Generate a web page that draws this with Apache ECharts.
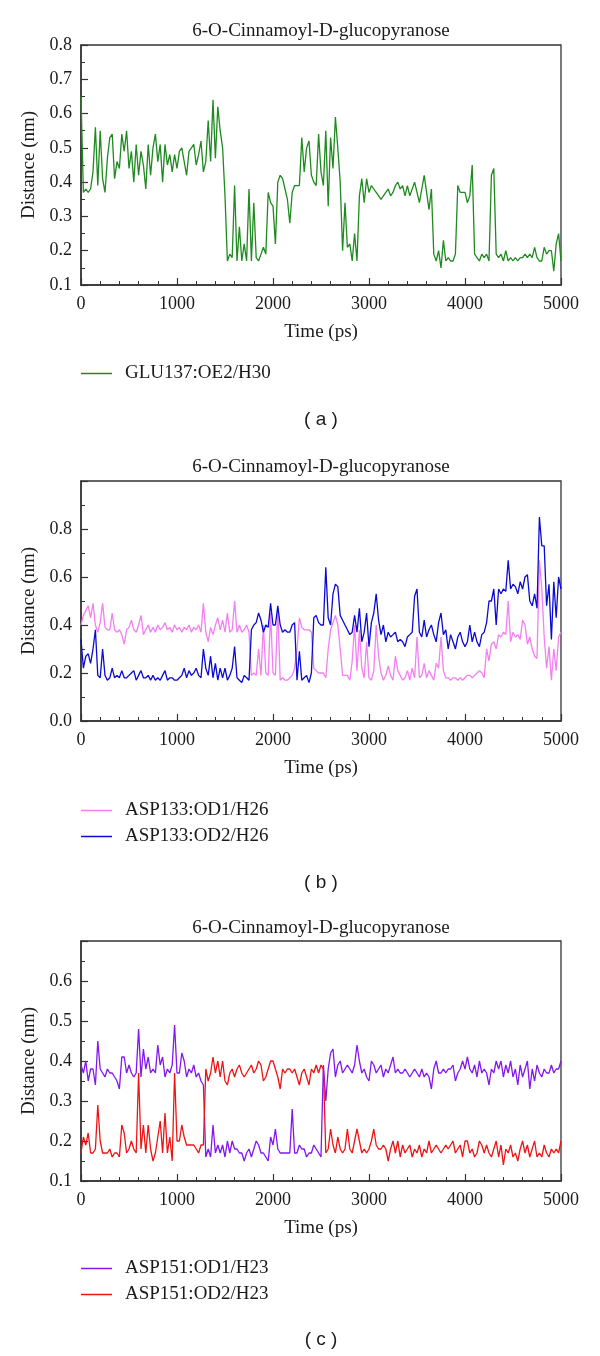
<!DOCTYPE html>
<html>
<head>
<meta charset="utf-8">
<script src="https://cdn.jsdelivr.net/npm/echarts@6/dist/echarts.min.js"></script>
<style>
html,body{margin:0;padding:0;background:#fff;}
#chart{width:600px;height:1356px;}
</style>
</head>
<body>
<div id="chart"></div>
<script>
// ---------------- data ----------------
const chartTitle = '6-O-Cinnamoyl-D-glucopyranose';
const timeStep = 25; // ps between sampled frames (0 ... 5000 ps)
const xTickValues = [0, 1000, 2000, 3000, 4000, 5000];
const panelLabels = ['( a )', '( b )', '( c )'];

const seriesNames = {
  glu137: 'GLU137:OE2/H30',
  asp133od1: 'ASP133:OD1/H26',
  asp133od2: 'ASP133:OD2/H26',
  asp151od1: 'ASP151:OD1/H23',
  asp151od2: 'ASP151:OD2/H23'
};

const glu137 = [
0.65,0.37,0.38,0.37,0.38,0.43,0.56,0.39,0.55,0.41,0.37,0.47,0.53,0.54,0.41,0.46,0.44,0.54,0.49,0.55,
0.44,0.49,0.40,0.51,0.42,0.49,0.45,0.38,0.51,0.42,0.50,0.54,0.46,0.51,0.40,0.51,0.45,0.48,0.43,0.48,
0.44,0.49,0.50,0.46,0.42,0.49,0.50,0.51,0.45,0.48,0.52,0.43,0.46,0.58,0.46,0.64,0.47,0.62,0.55,0.50,
0.36,0.17,0.19,0.18,0.39,0.17,0.27,0.17,0.22,0.17,0.38,0.17,0.34,0.18,0.17,0.19,0.21,0.19,0.37,0.34,
0.33,0.22,0.40,0.42,0.41,0.38,0.35,0.28,0.37,0.39,0.39,0.39,0.53,0.43,0.50,0.52,0.42,0.40,0.39,0.54,
0.43,0.39,0.55,0.33,0.53,0.44,0.59,0.50,0.40,0.20,0.34,0.21,0.22,0.17,0.25,0.17,0.36,0.41,0.34,0.41,
0.37,0.39,0.38,0.37,0.36,0.35,0.36,0.37,0.38,0.36,0.37,0.39,0.40,0.38,0.39,0.36,0.39,0.36,0.38,0.40,
0.37,0.34,0.38,0.42,0.37,0.32,0.38,0.19,0.17,0.20,0.15,0.23,0.17,0.18,0.17,0.17,0.19,0.39,0.37,0.37,
0.37,0.34,0.36,0.45,0.19,0.18,0.17,0.19,0.18,0.19,0.17,0.42,0.44,0.19,0.18,0.19,0.17,0.20,0.17,0.18,
0.17,0.18,0.17,0.18,0.18,0.19,0.18,0.19,0.18,0.21,0.18,0.17,0.17,0.21,0.19,0.20,0.20,0.14,0.22,0.25,
0.17];

const asp133od1 = [
0.40,0.44,0.46,0.48,0.43,0.49,0.40,0.37,0.41,0.49,0.39,0.38,0.38,0.45,0.38,0.37,0.38,0.36,0.32,0.38,
0.39,0.42,0.38,0.37,0.40,0.44,0.36,0.38,0.40,0.37,0.39,0.37,0.40,0.38,0.39,0.41,0.38,0.39,0.37,0.40,
0.38,0.39,0.37,0.39,0.38,0.40,0.37,0.39,0.38,0.40,0.37,0.49,0.37,0.33,0.39,0.36,0.40,0.43,0.38,0.42,
0.37,0.45,0.37,0.38,0.50,0.37,0.40,0.37,0.38,0.40,0.37,0.19,0.20,0.19,0.30,0.19,0.40,0.20,0.19,0.45,
0.20,0.19,0.47,0.17,0.18,0.17,0.17,0.18,0.19,0.22,0.30,0.43,0.39,0.38,0.38,0.38,0.37,0.22,0.21,0.20,
0.20,0.20,0.18,0.30,0.38,0.41,0.44,0.40,0.30,0.19,0.19,0.19,0.17,0.25,0.40,0.21,0.38,0.22,0.18,0.33,
0.18,0.17,0.21,0.40,0.27,0.20,0.17,0.19,0.23,0.19,0.17,0.27,0.21,0.19,0.17,0.18,0.21,0.17,0.22,0.18,
0.35,0.18,0.19,0.24,0.18,0.21,0.19,0.17,0.24,0.22,0.35,0.21,0.18,0.18,0.17,0.18,0.18,0.17,0.18,0.17,
0.18,0.19,0.19,0.18,0.19,0.20,0.21,0.20,0.18,0.30,0.25,0.32,0.33,0.30,0.36,0.35,0.37,0.36,0.50,0.33,
0.37,0.35,0.36,0.34,0.42,0.40,0.32,0.35,0.30,0.27,0.26,0.67,0.55,0.35,0.22,0.31,0.17,0.30,0.21,0.35,
0.37];

const asp133od2 = [
0.34,0.22,0.27,0.28,0.24,0.30,0.38,0.19,0.18,0.30,0.19,0.17,0.18,0.22,0.18,0.19,0.18,0.21,0.18,0.18,
0.19,0.20,0.21,0.17,0.19,0.21,0.18,0.18,0.19,0.17,0.19,0.17,0.18,0.17,0.19,0.21,0.17,0.18,0.18,0.17,
0.17,0.18,0.19,0.22,0.18,0.21,0.19,0.20,0.22,0.19,0.18,0.30,0.22,0.19,0.27,0.18,0.24,0.17,0.22,0.18,
0.22,0.17,0.19,0.22,0.31,0.18,0.17,0.16,0.19,0.18,0.17,0.38,0.40,0.41,0.45,0.42,0.37,0.40,0.39,0.49,
0.40,0.40,0.48,0.40,0.37,0.38,0.37,0.37,0.40,0.41,0.17,0.29,0.17,0.18,0.19,0.16,0.20,0.43,0.44,0.41,
0.40,0.40,0.64,0.43,0.40,0.53,0.57,0.56,0.44,0.42,0.40,0.38,0.36,0.37,0.44,0.37,0.47,0.33,0.37,0.45,
0.31,0.41,0.45,0.53,0.42,0.36,0.40,0.33,0.37,0.35,0.36,0.37,0.33,0.34,0.33,0.31,0.35,0.36,0.37,0.52,
0.55,0.37,0.35,0.42,0.35,0.38,0.40,0.36,0.33,0.41,0.45,0.36,0.38,0.30,0.36,0.33,0.30,0.35,0.37,0.33,
0.31,0.33,0.40,0.33,0.37,0.33,0.31,0.36,0.37,0.41,0.50,0.50,0.55,0.40,0.55,0.53,0.55,0.54,0.67,0.55,
0.57,0.56,0.53,0.58,0.55,0.60,0.61,0.50,0.48,0.53,0.47,0.85,0.73,0.73,0.48,0.57,0.34,0.58,0.43,0.60,
0.55];

const asp151od1 = [
0.39,0.37,0.40,0.35,0.38,0.38,0.34,0.45,0.38,0.37,0.36,0.38,0.37,0.37,0.36,0.35,0.33,0.41,0.41,0.37,
0.39,0.37,0.36,0.37,0.48,0.36,0.43,0.38,0.41,0.37,0.38,0.37,0.44,0.39,0.41,0.36,0.38,0.37,0.39,0.49,
0.37,0.37,0.42,0.40,0.36,0.38,0.37,0.39,0.36,0.37,0.35,0.34,0.16,0.18,0.16,0.24,0.17,0.19,0.17,0.19,
0.16,0.20,0.17,0.20,0.18,0.18,0.17,0.17,0.15,0.17,0.18,0.16,0.18,0.20,0.19,0.17,0.17,0.16,0.15,0.21,
0.19,0.23,0.18,0.17,0.17,0.17,0.17,0.17,0.28,0.17,0.17,0.19,0.18,0.18,0.16,0.17,0.17,0.19,0.18,0.17,
0.16,0.39,0.30,0.38,0.42,0.43,0.36,0.39,0.40,0.37,0.38,0.39,0.38,0.37,0.39,0.44,0.40,0.37,0.38,0.36,
0.35,0.40,0.39,0.37,0.38,0.39,0.36,0.38,0.37,0.39,0.41,0.37,0.38,0.37,0.37,0.38,0.37,0.36,0.37,0.38,
0.37,0.36,0.38,0.36,0.37,0.36,0.33,0.38,0.40,0.37,0.37,0.38,0.37,0.38,0.38,0.39,0.35,0.37,0.38,0.40,
0.38,0.41,0.38,0.37,0.39,0.36,0.40,0.37,0.38,0.37,0.34,0.38,0.37,0.40,0.38,0.40,0.36,0.39,0.37,0.40,
0.36,0.38,0.34,0.39,0.36,0.38,0.40,0.33,0.38,0.35,0.39,0.37,0.36,0.38,0.37,0.37,0.39,0.37,0.38,0.38,
0.40];

const asp151od2 = [
0.17,0.21,0.19,0.22,0.17,0.17,0.18,0.29,0.20,0.17,0.17,0.17,0.18,0.16,0.17,0.17,0.16,0.24,0.22,0.17,
0.18,0.20,0.18,0.17,0.37,0.18,0.24,0.17,0.24,0.18,0.15,0.17,0.21,0.25,0.17,0.27,0.17,0.21,0.15,0.37,
0.20,0.20,0.24,0.21,0.19,0.19,0.19,0.19,0.18,0.17,0.19,0.19,0.38,0.35,0.37,0.41,0.37,0.40,0.36,0.40,
0.35,0.34,0.37,0.38,0.36,0.38,0.39,0.37,0.36,0.37,0.38,0.39,0.37,0.38,0.40,0.39,0.35,0.36,0.38,0.40,
0.40,0.38,0.36,0.33,0.38,0.37,0.38,0.38,0.37,0.38,0.36,0.34,0.37,0.38,0.36,0.34,0.38,0.37,0.39,0.37,
0.39,0.38,0.17,0.18,0.23,0.19,0.17,0.21,0.18,0.17,0.18,0.23,0.18,0.17,0.20,0.23,0.20,0.17,0.18,0.17,
0.18,0.20,0.23,0.19,0.18,0.18,0.19,0.18,0.15,0.18,0.20,0.17,0.20,0.16,0.19,0.17,0.18,0.19,0.16,0.18,
0.17,0.19,0.16,0.18,0.17,0.20,0.17,0.18,0.19,0.18,0.17,0.18,0.19,0.18,0.19,0.20,0.17,0.18,0.19,0.16,
0.20,0.20,0.17,0.18,0.16,0.17,0.20,0.19,0.17,0.19,0.17,0.16,0.18,0.20,0.16,0.19,0.14,0.18,0.17,0.19,
0.16,0.17,0.15,0.18,0.20,0.17,0.19,0.16,0.18,0.20,0.16,0.17,0.16,0.19,0.17,0.16,0.18,0.17,0.18,0.17,
0.20];

// ---------------- chart ----------------
const serif = '"Liberation Serif", "Times New Roman", serif';
const sans = '"Liberation Sans", Arial, sans-serif';
const ink = '#1a1a1a';
const frame = '#333333';

function pairs(values) {
  return values.map((v, i) => [i * timeStep, v]);
}

const panels = [
  { top: 45,  yMin: 0.1, yMax: 0.8, yInt: 0.1, hideTop: false, titleY: 31,  subY: 420,  legendY: 373,
    series: [{ name: seriesNames.glu137, values: glu137, color: '#1f8a1f' }] },
  { top: 481, yMin: 0.0, yMax: 1.0, yInt: 0.2, hideTop: true,  titleY: 467, subY: 883,  legendY: 810,
    series: [{ name: seriesNames.asp133od1, values: asp133od1, color: '#f47ff2' },
             { name: seriesNames.asp133od2, values: asp133od2, color: '#0a0ad2' }] },
  { top: 941, yMin: 0.1, yMax: 0.7, yInt: 0.1, hideTop: true,  titleY: 928, subY: 1340, legendY: 1268,
    series: [{ name: seriesNames.asp151od1, values: asp151od1, color: '#8416f0' },
             { name: seriesNames.asp151od2, values: asp151od2, color: '#ee1414' }] }
];

const grid = [], xAxis = [], yAxis = [], series = [], legend = [], graphic = [];

panels.forEach((p, i) => {
  grid.push({ left: 81, top: p.top, width: 480, height: 240, show: true,
    borderColor: frame, borderWidth: 1.3, backgroundColor: 'transparent' });
  xAxis.push({
    gridIndex: i, type: 'value', min: xTickValues[0], max: xTickValues[xTickValues.length - 1], interval: 1000,
    name: 'Time (ps)', nameLocation: 'middle', nameGap: 38,
    nameTextStyle: { fontFamily: serif, fontSize: 19, color: ink },
    axisLine: { onZero: false, lineStyle: { color: frame, width: 1.5 } },
    axisTick: { inside: true, length: 7, lineStyle: { color: frame, width: 1.2 } },
    minorTick: { show: true, splitNumber: 5, length: 4, lineStyle: { color: frame, width: 1 } },
    axisLabel: { fontFamily: serif, fontSize: 18, color: ink, margin: 10, formatter: (v) => String(Math.round(v)) },
    splitLine: { show: false }, minorSplitLine: { show: false }
  });
  yAxis.push({
    gridIndex: i, type: 'value', min: p.yMin, max: p.yMax, interval: p.yInt,
    name: 'Distance (nm)', nameLocation: 'middle', nameGap: 40, nameRotate: 90,
    nameTextStyle: { fontFamily: serif, fontSize: 19, color: ink },
    axisLine: { onZero: false, lineStyle: { color: frame, width: 1.5 } },
    axisTick: { inside: true, length: 7, lineStyle: { color: frame, width: 1.2 } },
    minorTick: { show: true, splitNumber: 2, length: 4, lineStyle: { color: frame, width: 1 } },
    axisLabel: { fontFamily: serif, fontSize: 18, color: ink, margin: 9,
      formatter: (v) => (p.hideTop && Math.abs(v - p.yMax) < 1e-6) ? '' : v.toFixed(1) },
    splitLine: { show: false }, minorSplitLine: { show: false }
  });
  p.series.forEach(s => {
    series.push({
      name: s.name, type: 'line', xAxisIndex: i, yAxisIndex: i,
      data: pairs(s.values), symbol: 'none', showSymbol: false,
      lineStyle: { color: s.color, width: 1.3 }, itemStyle: { color: s.color },
      animation: false, clip: true
    });
  });
  legend.push({
    orient: 'vertical', left: 81, top: p.legendY - 9, padding: 0,
    icon: 'rect', itemWidth: 31, itemHeight: 1.5, itemGap: 7, selectedMode: false,
    data: p.series.map(s => s.name),
    textStyle: { fontFamily: serif, fontSize: 19, color: ink, lineHeight: 18, padding: [0, 0, 0, 8] }
  });
  graphic.push({
    type: 'text', x: 321, y: p.titleY,
    style: { text: chartTitle, font: '19px ' + serif, fill: ink,
      align: 'center', verticalAlign: 'middle', textAlign: 'center', textVerticalAlign: 'middle' }
  });
  graphic.push({
    type: 'text', x: 321, y: p.subY,
    style: { text: panelLabels[i], font: '19px ' + sans, fill: ink,
      align: 'center', verticalAlign: 'middle', textAlign: 'center', textVerticalAlign: 'middle' }
  });
});

const chart = echarts.init(document.getElementById('chart'), null, { renderer: 'canvas' });
chart.setOption({
  backgroundColor: '#ffffff',
  animation: false,
  grid, xAxis, yAxis, series, legend, graphic
});
</script>
</body>
</html>
